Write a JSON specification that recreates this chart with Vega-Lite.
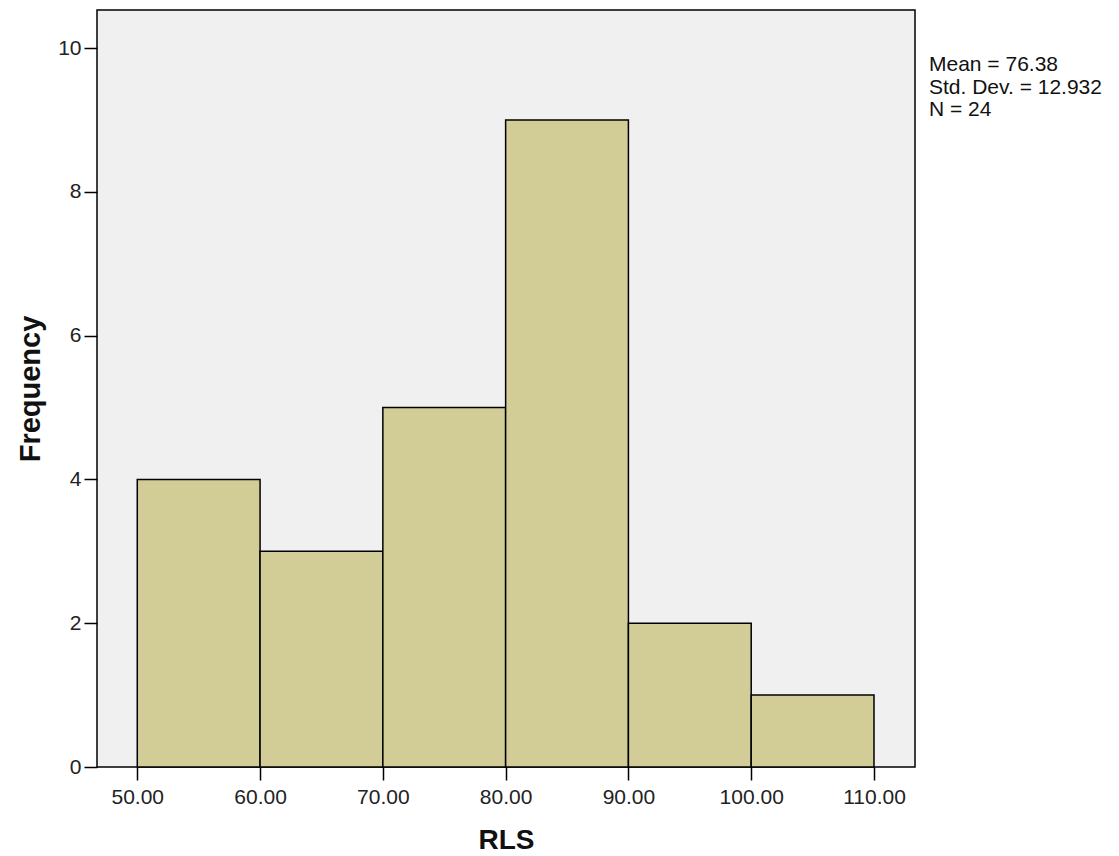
{
  "$schema": "https://vega.github.io/schema/vega-lite/v6.json",
  "autosize": "none",
  "padding": {"left": 97, "top": 10, "right": 204, "bottom": 89},
  "width": 818,
  "height": 757,
  "background": "white",
  "config": {
    "font": "Liberation Sans",
    "view": {"fill": "#f0f0f0", "stroke": "black", "strokeWidth": 1.5}
  },
  "title": {
    "text": ["Mean = 76.38", "Std. Dev. = 12.932", "N = 24"],
    "orient": "top",
    "anchor": "start",
    "frame": "group",
    "align": "left",
    "baseline": "alphabetic",
    "offset": 0,
    "dx": 832,
    "dy": 127,
    "fontSize": 21,
    "fontWeight": "normal",
    "font": "Liberation Sans",
    "lineHeight": 22.3,
    "color": "#111111"
  },
  "data": {
    "values": [
      {"bin_start": 50, "bin_end": 60, "count": 4},
      {"bin_start": 60, "bin_end": 70, "count": 3},
      {"bin_start": 70, "bin_end": 80, "count": 5},
      {"bin_start": 80, "bin_end": 90, "count": 9},
      {"bin_start": 90, "bin_end": 100, "count": 2},
      {"bin_start": 100, "bin_end": 110, "count": 1}
    ]
  },
  "mark": {"type": "rect", "fill": "#d2cd97", "stroke": "black", "strokeWidth": 1.5},
  "encoding": {
    "x": {
      "field": "bin_start",
      "type": "quantitative",
      "scale": {"domain": [46.72, 113.34], "nice": false, "zero": false},
      "axis": {
        "title": "RLS",
        "values": [50, 60, 70, 80, 90, 100, 110],
        "format": ".2f",
        "grid": false,
        "domain": false,
        "tickSize": 13,
        "tickWidth": 1.5,
        "tickColor": "black",
        "labelFontSize": 21,
        "labelColor": "#222222",
        "labelPadding": 6,
        "labelFont": "Liberation Sans",
        "titleFont": "Liberation Sans",
        "titleFontSize": 28,
        "titleFontWeight": "bold",
        "titleColor": "#111111",
        "titlePadding": 19
      }
    },
    "x2": {"field": "bin_end"},
    "y": {
      "field": "count",
      "type": "quantitative",
      "scale": {"domain": [0, 10.53], "nice": false},
      "axis": {
        "title": "Frequency",
        "values": [0, 2, 4, 6, 8, 10],
        "grid": false,
        "domain": false,
        "tickSize": 13,
        "tickWidth": 1.5,
        "tickColor": "black",
        "labelFontSize": 21,
        "labelColor": "#222222",
        "labelPadding": 3,
        "labelFont": "Liberation Sans",
        "titleFont": "Liberation Sans",
        "titleFontSize": 29,
        "titleFontWeight": "bold",
        "titleColor": "#111111",
        "titlePadding": 12
      }
    },
    "y2": {"datum": 0}
  }
}
